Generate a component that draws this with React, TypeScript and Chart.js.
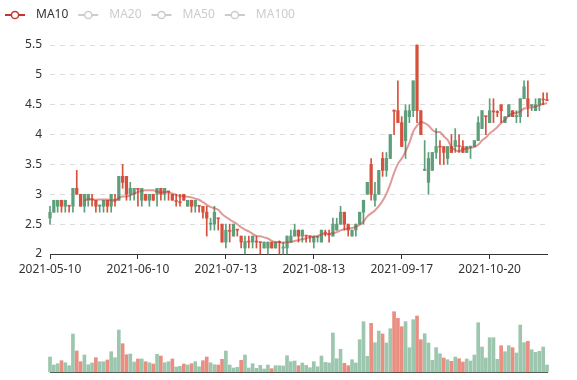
import React, { useEffect, useRef } from "react";
import { Chart, registerables } from "chart.js";

Chart.register(...registerables);

const dates = [
  "2021-05-10", "2021-05-11", "2021-05-12", "2021-05-13", "2021-05-14",
  "2021-05-17", "2021-05-18", "2021-05-19", "2021-05-20", "2021-05-21",
  "2021-05-24", "2021-05-25", "2021-05-26", "2021-05-27", "2021-05-28",
  "2021-05-31", "2021-06-01", "2021-06-02", "2021-06-03", "2021-06-04",
  "2021-06-07", "2021-06-08", "2021-06-09", "2021-06-10", "2021-06-11",
  "2021-06-14", "2021-06-15", "2021-06-16", "2021-06-17", "2021-06-18",
  "2021-06-21", "2021-06-22", "2021-06-23", "2021-06-24", "2021-06-25",
  "2021-06-28", "2021-06-29", "2021-06-30", "2021-07-01", "2021-07-02",
  "2021-07-05", "2021-07-06", "2021-07-07", "2021-07-08", "2021-07-09",
  "2021-07-12", "2021-07-13", "2021-07-14", "2021-07-15", "2021-07-16",
  "2021-07-19", "2021-07-20", "2021-07-21", "2021-07-22", "2021-07-23",
  "2021-07-26", "2021-07-27", "2021-07-28", "2021-07-29", "2021-07-30",
  "2021-08-02", "2021-08-03", "2021-08-04", "2021-08-05", "2021-08-06",
  "2021-08-09", "2021-08-10", "2021-08-11", "2021-08-12", "2021-08-13",
  "2021-08-16", "2021-08-17", "2021-08-18", "2021-08-19", "2021-08-20",
  "2021-08-23", "2021-08-24", "2021-08-25", "2021-08-26", "2021-08-27",
  "2021-08-30", "2021-08-31", "2021-09-01", "2021-09-02", "2021-09-07",
  "2021-09-08", "2021-09-09", "2021-09-10", "2021-09-13", "2021-09-14",
  "2021-09-15", "2021-09-16", "2021-09-17", "2021-09-20", "2021-09-21",
  "2021-09-22", "2021-09-23", "2021-09-24", "2021-09-27", "2021-09-28",
  "2021-09-29", "2021-09-30", "2021-10-01", "2021-10-04", "2021-10-05",
  "2021-10-06", "2021-10-07", "2021-10-08", "2021-10-11", "2021-10-12",
  "2021-10-13", "2021-10-14", "2021-10-15", "2021-10-18", "2021-10-19",
  "2021-10-20", "2021-10-21", "2021-10-22", "2021-10-25", "2021-10-26",
  "2021-10-27", "2021-10-28", "2021-10-29", "2021-11-01", "2021-11-02",
  "2021-11-03", "2021-11-04", "2021-11-05", "2021-11-08", "2021-11-09",
  "2021-11-10",
];

const openPrices = [
  2.6, 2.7, 2.8, 2.9, 2.8, 2.8, 2.8, 3.1, 3.0, 2.8,
  2.9, 2.9, 2.9, 2.8, 2.8, 2.9, 2.8, 2.9, 2.9, 3.3,
  3.3, 3.0, 3.0, 3.1, 2.9, 3.0, 2.9, 3.0, 3.0, 3.1,
  3.0, 3.04, 3.0, 2.88, 2.86, 3.0, 2.8, 2.9, 2.8, 2.8,
  2.8, 2.7, 2.5, 2.5, 2.6, 2.5, 2.2, 2.38, 2.3, 2.4,
  2.3, 2.1, 2.2, 2.2, 2.2, 2.19, 2.1, 2.1, 2.2, 2.1,
  2.19, 2.1, 2.1, 2.2, 2.3, 2.4, 2.3, 2.3, 2.29, 2.2,
  2.28, 2.2, 2.35, 2.32, 2.3, 2.4, 2.5, 2.7, 2.5, 2.3,
  2.4, 2.5, 2.7, 3.0, 3.5, 2.9, 3.0, 3.6, 3.4, 3.6,
  4.41, 4.4, 4.2, 3.9, 4.3, 4.4, 5.5, 4.4, 3.4, 3.2,
  3.4, 3.7, 3.79, 3.8, 3.6, 3.8, 3.8, 3.81, 3.8, 3.7,
  3.79, 3.8, 3.9, 4.1, 4.3, 4.2, 4.38, 4.37, 4.5, 4.2,
  4.3, 4.4, 4.3, 4.3, 4.6, 4.6, 4.48, 4.4, 4.5, 4.58,
  4.57,
];

const closePrices = [
  2.7, 2.9, 2.9, 2.8, 2.9, 2.8, 3.1, 3.0, 2.8, 3.0,
  3.0, 2.9, 2.8, 2.82, 2.9, 2.8, 3.0, 2.9, 3.3, 3.2,
  3.0, 3.1, 3.1, 3.08, 3.1, 2.9, 3.0, 2.9, 3.1, 3.0,
  3.1, 3.04, 2.9, 2.88, 2.86, 2.9, 2.9, 2.8, 2.9, 2.8,
  2.7, 2.6, 2.51, 2.7, 2.59, 2.2, 2.4, 2.38, 2.5, 2.4,
  2.2, 2.21, 2.2, 2.3, 2.2, 2.19, 2.2, 2.2, 2.1, 2.2,
  2.19, 2.11, 2.3, 2.3, 2.4, 2.3, 2.4, 2.3, 2.29, 2.3,
  2.3, 2.4, 2.35, 2.32, 2.5, 2.5, 2.7, 2.5, 2.4, 2.4,
  2.5, 2.7, 2.9, 3.2, 3.0, 3.0, 3.4, 3.4, 3.6, 4.0,
  4.39, 4.2, 3.8, 4.4, 4.4, 4.9, 4.4, 4.0, 3.42, 3.6,
  3.7, 3.8, 3.79, 3.7, 3.8, 3.7, 3.9, 3.8, 3.7, 3.8,
  3.8, 3.9, 4.2, 4.4, 4.3, 4.4, 4.38, 4.37, 4.4, 4.3,
  4.5, 4.3, 4.31, 4.6, 4.8, 4.47, 4.5, 4.5, 4.6, 4.58,
  4.57,
];

const lowPrices = [
  2.5, 2.7, 2.7, 2.7, 2.7, 2.7, 2.7, 3.0, 2.8, 2.7,
  2.8, 2.8, 2.7, 2.7, 2.7, 2.7, 2.7, 2.8, 2.9, 3.1,
  2.9, 2.9, 2.9, 2.8, 2.8, 2.9, 2.8, 2.9, 2.8, 2.9,
  2.9, 2.9, 2.9, 2.8, 2.8, 2.9, 2.8, 2.7, 2.7, 2.7,
  2.6, 2.3, 2.4, 2.4, 2.4, 2.2, 2.1, 2.2, 2.3, 2.3,
  2.1, 2.0, 2.1, 2.1, 2.1, 2.0, 2.1, 2.0, 2.1, 2.1,
  2.0, 2.0, 2.0, 2.2, 2.3, 2.2, 2.2, 2.2, 2.2, 2.1,
  2.2, 2.2, 2.3, 2.2, 2.3, 2.4, 2.5, 2.4, 2.3, 2.3,
  2.3, 2.5, 2.5, 3.0, 2.9, 2.8, 3.0, 3.3, 3.3, 3.6,
  4.0, 4.2, 3.8, 3.6, 4.2, 4.3, 4.2, 4.0, 3.4, 3.0,
  3.4, 3.6, 3.5, 3.5, 3.5, 3.7, 3.7, 3.7, 3.7, 3.7,
  3.6, 3.8, 3.9, 4.1, 4.0, 4.2, 4.2, 4.3, 4.2, 4.2,
  4.3, 4.3, 4.2, 4.2, 4.6, 4.3, 4.4, 4.4, 4.4, 4.5,
  4.57,
];

const highPrices = [
  2.8, 2.9, 2.9, 2.9, 2.9, 2.8, 3.1, 3.4, 3.0, 3.0,
  3.0, 3.0, 2.9, 2.82, 2.9, 2.9, 3.0, 3.0, 3.3, 3.5,
  3.3, 3.2, 3.1, 3.1, 3.1, 3.0, 3.0, 3.0, 3.1, 3.1,
  3.1, 3.04, 3.0, 3.0, 3.0, 3.0, 2.9, 2.9, 2.9, 2.8,
  2.8, 2.8, 2.6, 2.8, 2.6, 2.5, 2.5, 2.5, 2.5, 2.4,
  2.3, 2.3, 2.3, 2.3, 2.3, 2.2, 2.2, 2.2, 2.2, 2.2,
  2.22, 2.2, 2.3, 2.4, 2.5, 2.4, 2.4, 2.3, 2.3, 2.3,
  2.3, 2.4, 2.4, 2.4, 2.6, 2.6, 2.8, 2.7, 2.5, 2.4,
  2.5, 2.7, 2.9, 3.2, 3.6, 3.2, 3.4, 3.7, 3.7, 4.0,
  4.41, 4.9, 4.3, 4.5, 4.5, 4.9, 5.5, 4.4, 3.9, 3.7,
  3.7, 4.1, 3.9, 3.8, 3.8, 4.0, 4.1, 4.0, 3.9, 3.8,
  3.8, 3.9, 4.3, 4.4, 4.3, 4.6, 4.6, 4.4, 4.5, 4.3,
  4.5, 4.4, 4.4, 4.6, 4.9, 4.9, 4.5, 4.6, 4.6, 4.7,
  4.7,
];

const volumes = [
  150, 70, 83, 113, 93, 63, 380, 210, 103, 170,
  73, 90, 143, 103, 103, 120, 203, 143, 420, 283,
  173, 180, 100, 130, 130, 103, 93, 80, 177, 160,
  93, 103, 130, 50, 57, 80, 70, 83, 103, 53,
  113, 150, 93, 73, 70, 127, 210, 70, 40, 47,
  117, 170, 40, 83, 37, 67, 30, 70, 33, 63,
  63, 60, 163, 103, 110, 63, 90, 67, 43, 103,
  53, 160, 97, 90, 390, 133, 227, 87, 63, 123,
  90, 323, 503, 157, 487, 293, 410, 380, 290, 433,
  603, 537, 453, 503, 243, 523, 560, 323, 383, 290,
  117, 243, 183, 140, 123, 107, 150, 133, 100, 130,
  110, 170, 493, 250, 140, 343, 343, 127, 263, 203,
  263, 243, 190, 470, 293, 307, 223, 197, 207, 250,
  70,
];

const maPeriods = [10, 20, 50, 100];
const maColors = ["#c23531", "#2f4554", "#61a0a8", "#d48265"];
const shownSeries = ["MA10"];
const priceMin = 2;
const priceMax = 5.5;
const priceStep = 0.5;
const volumeMax = 720;
const LABEL_INTERVAL = 23;

const UP_COLOR = "#5e9e7b";
const DOWN_COLOR = "#d7503d";
const UP_VOL = "#9cc7ae";
const DOWN_VOL = "#e98e81";
const FONT = "'Noto Sans', sans-serif";

function calcMA(n: number) {
  return closePrices.map((_, i) => {
    if (i < n - 1) return null;
    let s = 0;
    for (let j = 0; j < n; j++) s += closePrices[i - j];
    return +(s / n).toFixed(3);
  });
}

function candleSign(i: number) {
  const o = openPrices[i];
  const c = closePrices[i];
  if (c > o) return 1;
  if (c < o) return -1;
  return i > 0 ? (closePrices[i - 1] <= c ? 1 : -1) : 1;
}

const legendPlugin = {
  id: "maLegend",
  afterDraw(chart: any) {
    const ctx = chart.ctx;
    ctx.save();
    ctx.font = `12px ${FONT}`;
    ctx.textBaseline = "middle";
    ctx.textAlign = "left";
    let x0 = 6;
    const y = 15;
    chart.data.datasets.forEach((ds: any) => {
      if (ds.type !== "line") return;
      const on = shownSeries.includes(ds.label);
      const col = on ? ds.legendColor : "#ccc";
      ctx.strokeStyle = col;
      ctx.lineWidth = 2;
      ctx.beginPath();
      ctx.moveTo(x0 - 1, y);
      ctx.lineTo(x0 + 19, y);
      ctx.stroke();
      ctx.beginPath();
      ctx.arc(x0 + 9, y, 3.6, 0, Math.PI * 2);
      ctx.fillStyle = "#fff";
      ctx.fill();
      ctx.lineWidth = 1.5;
      ctx.stroke();
      ctx.fillStyle = on ? "#333" : "#ccc";
      const tx = x0 + 30;
      ctx.fillText(ds.label, tx, y);
      x0 = tx + ctx.measureText(ds.label).width + 11;
    });
    ctx.restore();
  },
};

export default function App() {
  const priceRef = useRef<HTMLCanvasElement | null>(null);
  const volRef = useRef<HTMLCanvasElement | null>(null);

  useEffect(() => {
    const idx = dates.map((_, i) => i);
    const candleColors = idx.map((i) => (candleSign(i) > 0 ? UP_COLOR : DOWN_COLOR));
    const volColors = idx.map((i) => (openPrices[i] > closePrices[i] ? DOWN_VOL : UP_VOL));

    const maDatasets: any[] = maPeriods.map((p, k) => ({
      type: "line",
      label: "MA" + p,
      data: calcMA(p),
      borderColor: maColors[k] + "80",
      legendColor: maColors[k],
      borderWidth: 2,
      pointRadius: 0,
      tension: 0.35,
      fill: false,
      hidden: !shownSeries.includes("MA" + p),
      order: 0,
    }));

    const priceChart = new Chart(priceRef.current as HTMLCanvasElement, {
      type: "bar",
      data: {
        labels: dates,
        datasets: [
          ...maDatasets,
          {
            type: "bar",
            label: "body",
            data: idx.map((i) => [
              Math.min(openPrices[i], closePrices[i]),
              Math.max(openPrices[i], closePrices[i]),
            ]),
            backgroundColor: candleColors,
            barThickness: 2.6,
            minBarLength: 1,
            grouped: false,
            clip: false as any,
            order: 1,
          },
          {
            type: "bar",
            label: "wick",
            data: idx.map((i) => [lowPrices[i], highPrices[i]]),
            backgroundColor: candleColors,
            barThickness: 1,
            minBarLength: 1,
            grouped: false,
            clip: false as any,
            order: 2,
          },
        ] as any,
      },
      options: {
        animation: false,
        responsive: false,
        layout: { padding: { left: 0, right: 30, top: 45, bottom: 0 } },
        plugins: {
          legend: { display: false },
          tooltip: { enabled: false },
          title: { display: false },
        },
        scales: {
          x: {
            type: "category",
            offset: false,
            grid: {
              display: true,
              offset: false,
              drawOnChartArea: false,
              drawTicks: true,
              tickLength: 5,
              tickColor: (c: any) => (c.index % LABEL_INTERVAL === 0 ? "#333" : "rgba(0,0,0,0)"),
            },
            border: { display: true, color: "#333", width: 1 },
            ticks: {
              autoSkip: false,
              maxRotation: 0,
              minRotation: 0,
              padding: 3,
              color: "#333",
              font: { family: FONT, size: 12 },
              callback: (_v: any, i: number) => (i % LABEL_INTERVAL === 0 ? dates[i] : ""),
            },
            afterFit: (s: any) => {
              s.height = 36;
            },
          } as any,
          y: {
            min: priceMin,
            max: priceMax,
            ticks: {
              stepSize: priceStep,
              padding: 8,
              color: "#333",
              font: { family: FONT, size: 12 },
              callback: (v: any) => String(Math.round(Number(v) * 10) / 10),
            },
            grid: { color: "#ddd", drawTicks: false, lineWidth: 1 },
            border: { display: false, dash: [5, 5] },
            afterFit: (s: any) => {
              s.width = 50;
            },
          } as any,
        },
      },
      plugins: [legendPlugin],
    });

    const volChart = new Chart(volRef.current as HTMLCanvasElement, {
      type: "bar",
      data: {
        labels: dates,
        datasets: [
          {
            label: "Volume",
            data: volumes,
            backgroundColor: volColors,
            barThickness: 3,
            clip: false as any,
          },
        ],
      },
      options: {
        animation: false,
        responsive: false,
        layout: { padding: { left: 50, right: 30, top: 10, bottom: 8 } },
        plugins: {
          legend: { display: false },
          tooltip: { enabled: false },
        },
        scales: {
          x: {
            type: "category",
            offset: false,
            grid: { display: false, offset: false, drawTicks: false },
            ticks: { display: false },
            border: { display: true, color: "#333", width: 1 },
            afterFit: (s: any) => {
              s.height = 0;
            },
          } as any,
          y: { display: false, min: 0, max: volumeMax },
        },
      },
    });

    return () => {
      priceChart.destroy();
      volChart.destroy();
    };
  }, []);

  return (
    <div style={{ position: "absolute", left: 0, top: 0, width: 577, height: 380, background: "#fff" }}>
      <canvas ref={priceRef} width={577} height={290} style={{ position: "absolute", left: 0, top: 0 }} />
      <canvas ref={volRef} width={577} height={90} style={{ position: "absolute", left: 0, top: 290 }} />
    </div>
  );
}
